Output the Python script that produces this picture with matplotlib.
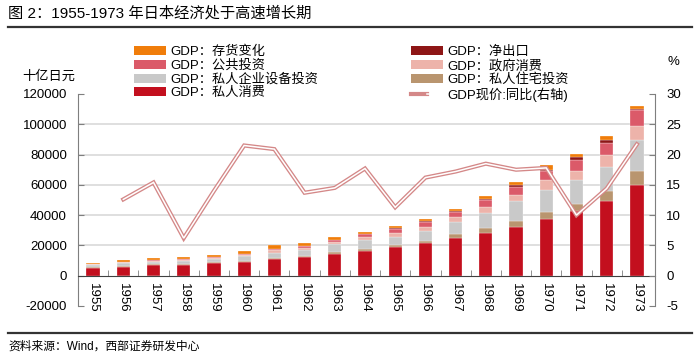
import numpy as np
import matplotlib
matplotlib.use("Agg")
import matplotlib.pyplot as plt
from matplotlib.lines import Line2D
from matplotlib.patches import Patch
from matplotlib.legend_handler import HandlerTuple

plt.rcParams['font.family'] = ['Liberation Sans', 'Noto Sans CJK SC']
plt.rcParams['axes.unicode_minus'] = False

# 数据 (十亿日元)
years = [str(y) for y in range(1955, 1974)]
private_consumption = [5100, 5900, 6800, 7300, 8100, 9000, 10800, 12300, 14500, 16500,
                       18700, 21300, 24600, 28100, 32500, 37400, 42600, 49200, 59800]
housing_invest = [600, 700, 700, 600, 700, 700, 600, 900, 900, 1300,
                  1700, 1800, 2700, 3300, 3800, 5000, 4700, 6600, 9200]
equipment_invest = [1100, 1500, 1700, 1600, 2000, 3000, 3800, 3900, 5300, 5500,
                    5300, 6400, 7900, 9700, 12900, 14500, 15800, 16100, 20500]
gov_consumption = [700, 700, 700, 800, 800, 900, 1500, 1400, 1300, 2000,
                   2200, 2800, 3300, 4200, 4400, 6200, 6100, 7700, 9400]
public_invest = [400, 400, 400, 700, 700, 900, 800, 1100, 1500, 2000,
                 2900, 3300, 3700, 4600, 5100, 5900, 7100, 8300, 10800]
net_exports = [100, -250, -300, 200, 100, 100, -300, 100, -250, -200,
               400, 400, 300, 600, 900, 1100, 2200, 2000, 200]
inventory = [600, 900, 1100, 1000, 1000, 1800, 2500, 2200, 1800, 1800,
             1500, 1500, 1700, 2200, 2600, 3300, 2200, 2400, 2400]

# GDP现价:同比 (%), 从1956年开始
growth_years = years[1:]
gdp_growth = [12.6, 15.4, 6.2, 14.0, 21.5, 20.9, 13.7, 14.5, 17.7,
              11.3, 16.2, 17.2, 18.5, 17.5, 17.8, 10.0, 14.4, 21.7]

series = [
    ("GDP：私人消费", private_consumption, "#C30F1E"),
    ("GDP：私人住宅投资", housing_invest, "#B9956F"),
    ("GDP：私人企业设备投资", equipment_invest, "#C9C9C9"),
    ("GDP：政府消费", gov_consumption, "#EDB3AA"),
    ("GDP：公共投资", public_invest, "#DB5A69"),
    ("GDP：净出口", net_exports, "#8E1616"),
    ("GDP：存货变化", inventory, "#F07D0A"),
]

fig = plt.figure(figsize=(7, 3.58), dpi=100)
ax = fig.add_axes([78 / 700, 1 - 306 / 358, (655 - 78) / 700, (306 - 94) / 358])

x = np.arange(len(years))
pos_base = np.zeros(len(years))
neg_base = np.zeros(len(years))
handles = {}
for label, vals, color in series:
    vals = np.array(vals, dtype=float)
    bottoms = np.where(vals >= 0, pos_base, neg_base)
    seg_color = color
    if label == "GDP：净出口":
        # 负值部分在原图中只是一条很淡的边
        seg_color = [color if v >= 0 else "#F2C4C4" for v in vals]
    ax.bar(x, vals, width=0.44, bottom=bottoms, color=seg_color, zorder=3,
           edgecolor='white', linewidth=0.2)
    pos_base = pos_base + np.where(vals >= 0, vals, 0)
    neg_base = neg_base + np.where(vals < 0, vals, 0)
    handles[label] = Patch(facecolor=color, edgecolor='none')

ax.set_xlim(-0.5, 18.6)
ax.set_ylim(-20000, 120000)
ax.set_yticks(range(-20000, 120001, 20000))
for v in range(20000, 100001, 20000):
    ax.axhline(v, color='#D9D9D9', lw=1.2, zorder=0)

ax.spines['top'].set_visible(False)
ax.spines['right'].set_visible(False)
ax.spines['left'].set_color('#7F7F7F')
ax.spines['bottom'].set_position(('data', 0))
ax.spines['bottom'].set_color('#404040')
ax.spines['bottom'].set_zorder(4)

ax.set_xticks(x)
ax.set_xticklabels(years, rotation=-90, fontsize=9.5)
ax.tick_params(axis='x', which='major', length=0, pad=5)
ax.set_xticks(x[:-1] + 0.5, minor=True)
ax.tick_params(axis='x', which='minor', direction='in', length=4, color='#7F7F7F')
ax.tick_params(axis='y', direction='in', length=4, color='#7F7F7F', labelsize=9.5, pad=8)

ax2 = ax.twinx()
ax2.set_ylim(-5, 30)
ax2.set_yticks(range(-5, 31, 5))
ax2.plot(x[1:], gdp_growth, color='#D48888', lw=3.0, zorder=5, solid_joinstyle='miter')
ax2.plot(x[1:], gdp_growth, color='white', lw=1.1, zorder=6, solid_joinstyle='miter')
for s in ['top', 'left', 'bottom']:
    ax2.spines[s].set_visible(False)
ax2.spines['right'].set_color('#7F7F7F')
ax2.tick_params(axis='y', direction='in', length=4, color='#7F7F7F', labelsize=9.5, pad=8)

line_handle = (Line2D([], [], color='#D48888', lw=3.0), Line2D([], [], color='white', lw=1.1))

left_labels = ["GDP：存货变化", "GDP：公共投资", "GDP：私人企业设备投资", "GDP：私人消费"]
right_labels = ["GDP：净出口", "GDP：政府消费", "GDP：私人住宅投资"]

leg_kw = dict(loc='upper left', frameon=False, fontsize=9.5, handlelength=2.4,
              handletextpad=0.4, labelspacing=0.1, borderpad=0.4,
              handler_map={tuple: HandlerTuple(ndivide=None, pad=0)})
fig.legend([handles[l] for l in left_labels], left_labels,
           bbox_to_anchor=(122 / 700, 1 - 34 / 358), **leg_kw)
fig.legend([handles[l] for l in right_labels] + [line_handle],
           right_labels + ["GDP现价:同比(右轴)"],
           bbox_to_anchor=(399 / 700, 1 - 34 / 358), **leg_kw)

fig.text(22 / 700, 1 - 77 / 358, "十亿日元", fontsize=9.5, va='center', ha='left')
fig.text(667 / 700, 1 - 62 / 358, "%", fontsize=9.5, va='center', ha='left')

fig.text(8 / 700, 1 - 13 / 358, "图 2：1955-1973 年日本经济处于高速增长期", fontsize=11,
         va='center', ha='left')
fig.add_artist(Line2D([8 / 700, 692 / 700], [1 - 27 / 358] * 2, color='#333333', lw=1.6))
fig.add_artist(Line2D([8 / 700, 692 / 700], [1 - 333 / 358] * 2, color='#333333', lw=1.6))
fig.text(8 / 700, 1 - 347 / 358, "资料来源：Wind，西部证券研发中心", fontsize=8.5,
         va='center', ha='left')

fig.savefig("out.png", dpi=100)
